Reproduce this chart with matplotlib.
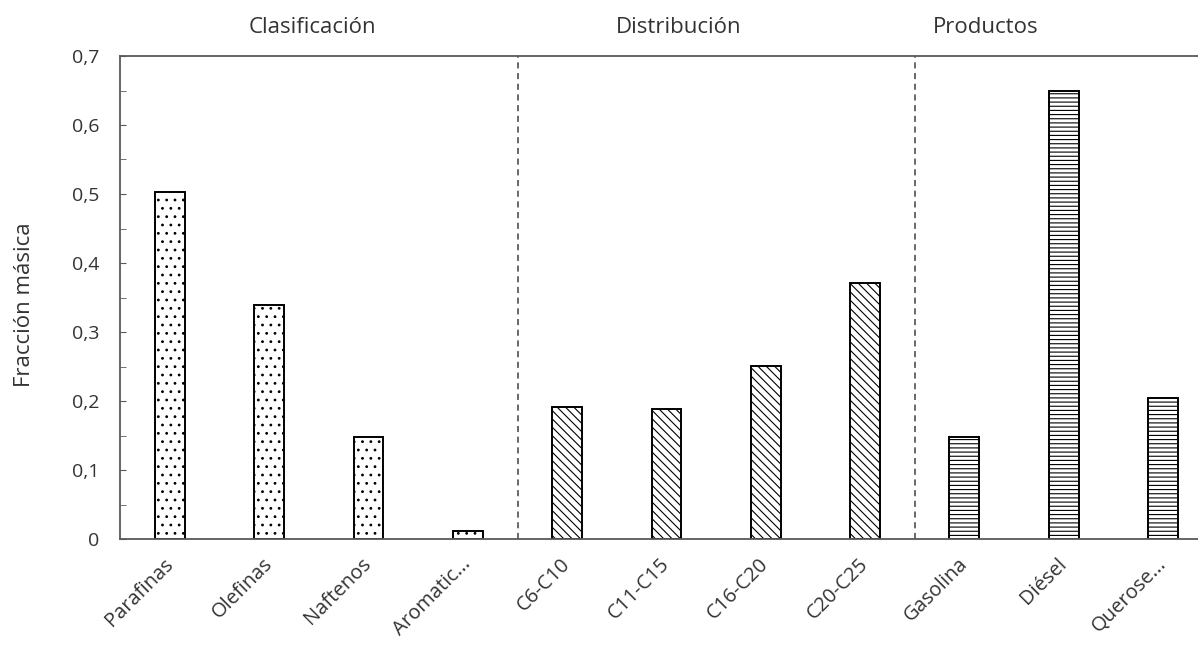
import numpy as np
import matplotlib.pyplot as plt
from matplotlib.ticker import MultipleLocator
from matplotlib.transforms import blended_transform_factory

# data
categories = ['Parafinas', 'Olefinas', 'Naftenos', 'Aromatic...',
              'C6-C10', 'C11-C15', 'C16-C20', 'C20-C25',
              'Gasolina', 'Diésel', 'Querose...']
clasificacion = [0.503, 0.339, 0.148, 0.012]
distribucion = [0.191, 0.189, 0.251, 0.371]
productos = [0.148, 0.650, 0.205]
groups = ['Clasificación', 'Distribución', 'Productos']
group_label_x = [1.43, 5.12, 8.21]
separators = [3.5, 7.5]
y_ticks = [0, 0.1, 0.2, 0.3, 0.4, 0.5, 0.6, 0.7]
y_labels = ['0', '0,1', '0,2', '0,3', '0,4', '0,5', '0,6', '0,7']

plt.rcParams['font.family'] = ['Open Sans', 'DejaVu Sans']
plt.rcParams['hatch.linewidth'] = 0.8
plt.rcParams['hatch.color'] = 'black'

gray = '#595959'
text_col = '#333333'

fig = plt.figure(figsize=(11.98, 6.48), dpi=100)
ax = fig.add_axes([120.3 / 1198, 109 / 648, 1 - 120.3 / 1198, 483 / 648])

# draw the three groups with their own hatch
series = [clasificacion, distribucion, productos]
hatches = ['..', '\\\\\\\\', '----']
start = 0
for vals, h in zip(series, hatches):
    x = np.arange(start, start + len(vals))
    ax.bar(x, vals, width=0.3, facecolor='white', edgecolor='black',
           linewidth=1.4, hatch=h)
    start += len(vals)

# dashed separators between groups
for s in separators:
    ax.axvline(s, color='#404040', linestyle=(0, (4, 3)), linewidth=1.1)

ax.set_xlim(-0.5, (1198 - 120.3) / 99.3 - 0.5)
ax.set_ylim(0, 0.7)

ax.set_xticks(np.arange(len(categories)))
ax.set_xticklabels(categories, rotation=45, ha='right', va='center',
                   rotation_mode='anchor', fontsize=14.5, color=text_col)
ax.tick_params(axis='x', length=0, pad=16)

ax.set_yticks(y_ticks)
ax.set_yticklabels(y_labels, fontsize=14, color=text_col)
ax.yaxis.set_minor_locator(MultipleLocator(0.05))
ax.tick_params(axis='y', which='both', direction='in', length=4,
               color=gray, pad=15)

for side in ['left', 'bottom', 'top']:
    ax.spines[side].set_color(gray)
    ax.spines[side].set_linewidth(1.3)
ax.spines['right'].set_visible(False)

trans = blended_transform_factory(ax.transData, ax.transAxes)
for g, gx in zip(groups, group_label_x):
    ax.text(gx, 1.058, g, transform=trans, ha='center', va='center',
            fontsize=16, color=text_col)

fig.text(25 / 1198, 1 - 305 / 648, 'Fracción másica', rotation=90,
         ha='center', va='center', fontsize=16, color=text_col)

fig.savefig('out.png', dpi=100)
